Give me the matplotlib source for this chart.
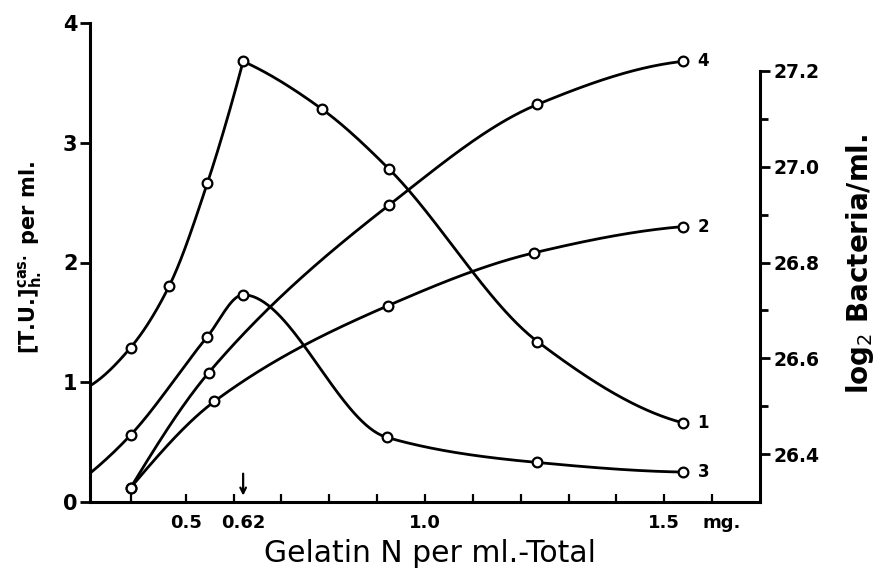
import numpy as np
import matplotlib
matplotlib.use('Agg')
from matplotlib import pylab as plt

# gelatin N (mg per ml) at the circles
x_tu1 = [0.385, 0.465, 0.545, 0.62, 0.785, 0.925, 1.235, 1.54]
tu1 = [1.29, 1.80, 2.66, 3.68, 3.28, 2.78, 1.34, 0.66]
x_tu3 = [0.385, 0.545, 0.62, 0.92, 1.235, 1.54]
tu3 = [0.56, 1.38, 1.73, 0.54, 0.33, 0.25]
# where curves 1 and 3 meet the y axis (no circle there)
x_axis = 0.30
tu1_axis = 0.97
tu3_axis = 0.24

# log2 bacteria/ml (right axis)
x_b4 = [0.385, 0.548, 0.925, 1.235, 1.54]
bact4 = [26.33, 26.57, 26.92, 27.13, 27.22]
x_b2 = [0.385, 0.56, 0.923, 1.227, 1.54]
bact2 = [26.33, 26.51, 26.71, 26.82, 26.875]

xtick_pos = [0.5, 0.62, 1.0, 1.5, 1.62]
xtick_labels = ['0.5', '0.62', '1.0', '1.5', 'mg.']
left_ticks = [0, 1, 2, 3, 4]
right_ticks = [26.4, 26.6, 26.8, 27.0, 27.2]


def pchip(x, y, xs):
    # monotone cubic through the points, keeps the hand drawn look
    x = np.asarray(x, float)
    y = np.asarray(y, float)
    h = np.diff(x)
    d = np.diff(y) / h
    m = np.zeros_like(y)
    for k in range(1, len(x) - 1):
        if d[k-1] * d[k] > 0:
            w1 = 2*h[k] + h[k-1]
            w2 = h[k] + 2*h[k-1]
            m[k] = (w1 + w2) / (w1/d[k-1] + w2/d[k])

    def edge(h0, h1, d0, d1):
        e = ((2*h0 + h1)*d0 - h0*d1) / (h0 + h1)
        if np.sign(e) != np.sign(d0):
            e = 0.0
        elif np.sign(d0) != np.sign(d1) and abs(e) > 3*abs(d0):
            e = 3*d0
        return e
    if len(x) > 2:
        m[0] = edge(h[0], h[1], d[0], d[1])
        m[-1] = edge(h[-1], h[-2], d[-1], d[-2])
    else:
        m[:] = d[0]
    i = np.clip(np.searchsorted(x, xs) - 1, 0, len(x) - 2)
    t = (xs - x[i]) / h[i]
    return ((2*t**3 - 3*t**2 + 1)*y[i] + (t**3 - 2*t**2 + t)*h[i]*m[i]
            + (-2*t**3 + 3*t**2)*y[i+1] + (t**3 - t**2)*h[i]*m[i+1])


def draw_curve(ax, xs, ys, label, start=None, corner=None):
    lx = list(xs)
    ly = list(ys)
    if start is not None:
        lx = [start[0]] + lx
        ly = [start[1]] + ly
    # a corner splits the curve in two pieces (sharp peak)
    pieces = [(lx, ly)]
    if corner is not None:
        k = lx.index(corner)
        pieces = [(lx[:k+1], ly[:k+1]), (lx[k:], ly[k:])]
    for px, py in pieces:
        xx = np.linspace(px[0], px[-1], 300)
        ax.plot(xx, pchip(px, py, xx), color='black', lw=2.0,
                solid_capstyle='round', solid_joinstyle='round', zorder=2)
    ax.plot(xs, ys, 'o', ms=7, mfc='white', mec='black', mew=1.6, zorder=3)
    ax.annotate(label, (xs[-1], ys[-1]), xytext=(14, 0), textcoords='offset pixels',
                ha='left', va='center', fontsize=12, fontweight='bold')


plt.rcParams['font.family'] = 'DejaVu Sans'
fig = plt.figure(figsize=(8.83, 5.75), dpi=100)
ax = fig.add_axes([90/883, 1 - 502/575, 670/883, 479/575])
ax2 = ax.twinx()

draw_curve(ax, x_tu1, tu1, '1', start=(x_axis, tu1_axis), corner=0.62)
draw_curve(ax, x_tu3, tu3, '3', start=(x_axis, tu3_axis))
draw_curve(ax2, x_b4, bact4, '4')
draw_curve(ax2, x_b2, bact2, '2')

ax.set_xlim(0.30, 1.70)
ax.set_ylim(0, 4.0)
ax2.set_ylim(26.3, 27.3)

for s in ['top', 'right']:
    ax.spines[s].set_visible(False)
for s in ['top', 'left', 'bottom']:
    ax2.spines[s].set_visible(False)
for sp in [ax.spines['left'], ax.spines['bottom'], ax2.spines['right']]:
    sp.set_linewidth(2.2)
ax.spines['left'].set_bounds(0, 4.0)
ax2.spines['right'].set_bounds(26.3, 27.2)

# x axis: short inward ticks every 0.1, labels on their own
ax.xaxis.remove_overlapping_locs = False
ax.set_xticks([x_tu1[0]] + list(np.arange(0.5, 1.65, 0.1)), minor=True)
ax.set_xticks(xtick_pos)
ax.set_xticklabels(xtick_labels)
ax.tick_params(axis='x', which='minor', direction='in', length=6, width=1.6)
ax.tick_params(axis='x', which='major', direction='in', length=0, pad=9,
               labelsize=13)
for t in ax.get_xticklabels():
    t.set_fontweight('bold')

ax.set_yticks(left_ticks)
ax.tick_params(axis='y', direction='out', length=7, width=2, pad=2, labelsize=15)
for t in ax.get_yticklabels():
    t.set_fontweight('bold')

ax2.set_yticks(right_ticks)
ax2.set_yticks(np.arange(26.5, 27.15, 0.2), minor=True)
ax2.tick_params(axis='y', which='major', direction='out', length=7, width=2,
                pad=3, labelsize=13.5)
ax2.tick_params(axis='y', which='minor', direction='out', length=6, width=2)
for t in ax2.get_yticklabels():
    t.set_fontweight('bold')

# arrow marking 0.62 mg
ax.annotate('', xy=(0.62, 0.03), xytext=(0.62, 0.26),
            arrowprops=dict(arrowstyle='->', lw=1.6, color='black'))

ax.set_xlabel('Gelatin N per ml.-Total', fontsize=21.5)
ax.xaxis.set_label_coords(0.507, -0.078)
ax.set_ylabel(r'[T.U.]$^{\mathbf{cas.}}_{\mathbf{h.}}$ per ml.',
              fontsize=15, fontweight='bold')
ax.yaxis.set_label_coords(-0.069, 0.51)
ax2.set_ylabel(r'log$_2$ Bacteria/ml.', fontsize=20, fontweight='bold',
               rotation=90)
ax2.yaxis.set_label_coords(1.125, 0.497)

plt.savefig('out.png', dpi=100)
